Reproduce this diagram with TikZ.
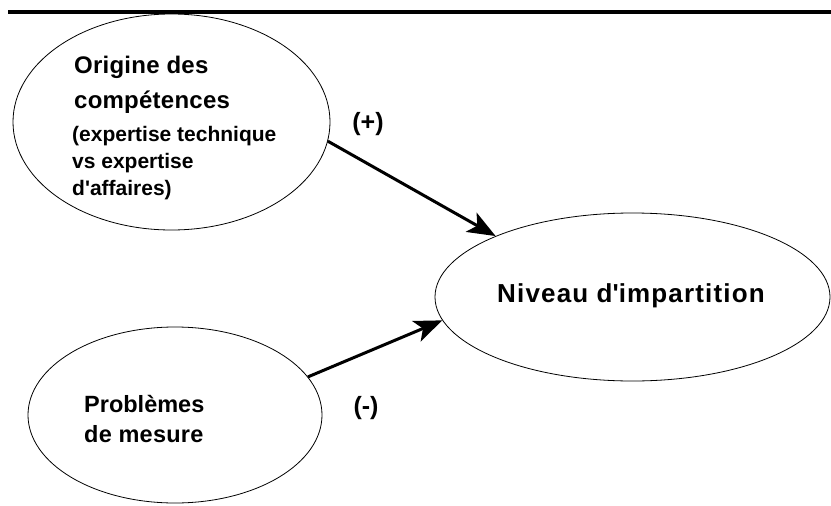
\documentclass[tikz,border=0pt]{standalone}
\usepackage{fontspec}
\setmainfont{Liberation Sans}
\usetikzlibrary{shapes.geometric,arrows.meta}
\begin{document}
\begin{tikzpicture}[x=1pt,y=-1pt,
  bubble/.style={draw,ellipse,inner sep=0pt,line width=0.8pt},
  lbl/.style={inner sep=0pt,anchor=base west},
  conn/.style={line width=3pt,-{Stealth[length=28pt,width=22pt,inset=7pt]}},
  bigtxt/.style={font=\bfseries\fontsize{24}{30}\selectfont\addfontfeatures{LetterSpace=1}},
  subtxt/.style={font=\bfseries\fontsize{21}{27}\selectfont},
  signtxt/.style={font=\bfseries\fontsize{25}{30}\selectfont,inner sep=0pt,anchor=base},
]
\useasboundingbox (0,0) rectangle (831,506);
\coordinate (rl) at (8,12);
\coordinate (rr) at (831,12);
\draw[line width=4pt] (rl) -- (rr);
\node[bubble,minimum width=317pt,minimum height=216pt] (e1) at (171.5,122) {};
\node[bubble,minimum width=395pt,minimum height=168pt] (e2) at (632.5,297) {};
\node[bubble,minimum width=294pt,minimum height=176pt] (e3) at (175,415) {};
\node[lbl,bigtxt] (t1) at (74,73) {Origine des};
\node[lbl,bigtxt] (t2) at (74,108) {compétences};
\node[lbl,subtxt] (t3) at (72,141) {(expertise technique};
\node[lbl,subtxt] (t4) at (72,168) {vs expertise};
\node[lbl,subtxt] (t5) at (72,195) {d\textquotesingle affaires)};
\node[lbl,font=\bfseries\fontsize{26}{30}\selectfont\addfontfeatures{LetterSpace=4.5}] (n1) at (497,302) {Niveau d\textquotesingle impartition};
\node[lbl,font=\bfseries\fontsize{23.5}{30}\selectfont] (p1) at (84,412) {Problèmes};
\node[lbl,font=\bfseries\fontsize{23.5}{30}\selectfont\addfontfeatures{LetterSpace=1}] (p2) at (84,442) {de mesure};
\node[signtxt] (plus) at (368,130) {(+)};
\node[signtxt] (minus) at (366,414) {(-)};
\draw[conn] (e1.-7.3) -- (e2.156);
\draw[conn] (e3.16.7) -- (e2.187);
\end{tikzpicture}
\end{document}
